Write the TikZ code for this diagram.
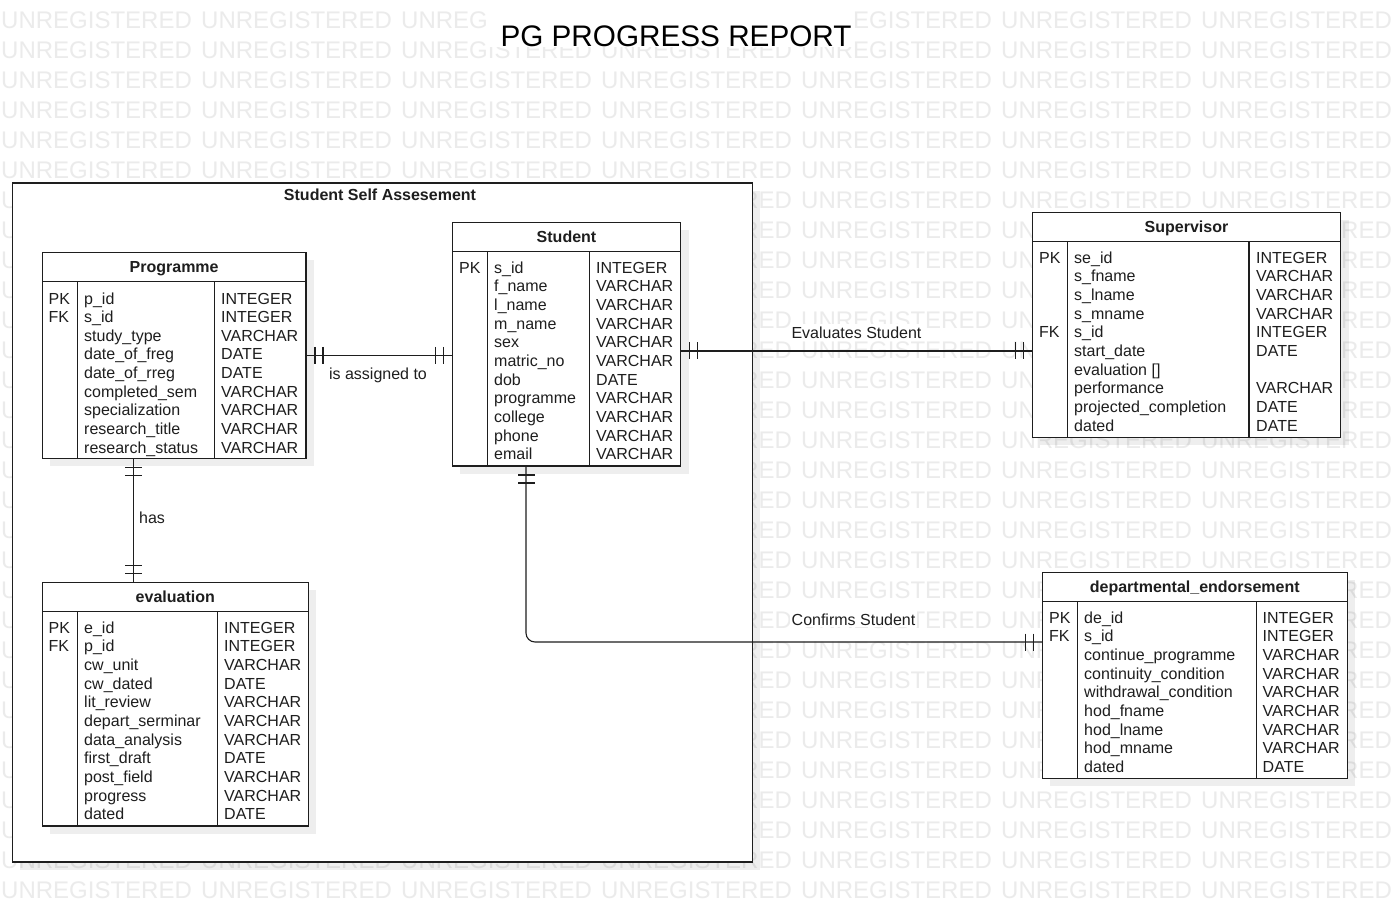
\documentclass[tikz,border=0pt]{standalone}
\usepackage{fontspec}
\setmainfont{Liberation Sans}
\usetikzlibrary{decorations.markings}

\definecolor{wmgray}{RGB}{235,235,235}
\definecolor{ink}{RGB}{30,30,30}

\tikzset{
  wm/.style={font=\fontsize{24}{28}\selectfont, text=wmgray, inner sep=0pt},
  cell/.style={font=\fontsize{16}{19}\selectfont, text=ink, inner sep=0pt},
  headtxt/.style={font=\fontsize{16}{19}\selectfont\bfseries, text=ink, inner sep=0pt},
  entity/.style={draw=ink, line width=1.1pt, fill=white, inner sep=0pt, outer sep=0pt},
  divline/.style={draw=ink, line width=1.1pt},
  shade/.style={fill=black, fill opacity=0.065},
  bar/.style={draw=ink, line width=1.1pt},
  relline/.style={draw=ink, line width=1.1pt, postaction=decorate,
    decoration={markings,
      mark=at position 9pt with {\draw[bar] (0,-8.5) -- (0,8.5);},
      mark=at position 17pt with {\draw[bar] (0,-8.5) -- (0,8.5);},
      mark=at position -9pt with {\draw[bar] (0,-8.5) -- (0,8.5);},
      mark=at position -17pt with {\draw[bar] (0,-8.5) -- (0,8.5);}}},
  rellabel/.style={font=\fontsize{16}{19}\selectfont, text=ink, fill=white, inner sep=2pt}
}

% entity box: name, x0, y0, x1, y1, first divider, second divider, title
\newcommand\erentity[8]{%
  \fill[shade] (#2+8,#3+8) rectangle (#4+8,#5+8);
  \node[entity, anchor=north west, minimum width={(#4-#2)*1pt}, minimum height={(#5-#3)*1pt}] (#1) at (#2,#3) {};
  \draw[divline] (#2,#3+28.8) -- (#4,#3+28.8);
  \draw[divline] (#6,#3+28.8) -- (#6,#5);
  \draw[divline] (#7,#3+28.8) -- (#7,#5);
  \node[headtxt, anchor=base] (#1-title) at ({(#2+#4)/2},#3+19.8) {#8};
}

% attribute rows: name, key x, field x, type x, first baseline, rows
\newcommand\errows[6]{%
  \foreach \k/\n/\t [count=\i from 0] in {#6} {
    \node[cell, anchor=base west] (#1-k\i) at (#2,{#5+18.65*\i}) {\k};
    \node[cell, anchor=base west] (#1-n\i) at (#3,{#5+18.65*\i}) {\n};
    \node[cell, anchor=base west] (#1-t\i) at (#4,{#5+18.65*\i}) {\t};
  }
}

\begin{document}
\begin{tikzpicture}[x=1pt, y=-1pt]
  \useasboundingbox (0,0) rectangle (1397,912);
  \fill[white] (0,0) rectangle (1397,912);

  % background lettering
  \foreach \r in {0,...,29} {
    \foreach \c in {0,...,6} {
      \node[wm, anchor=base west] (wm-\r-\c) at ({200*\c+1},{28.7+30*\r}) {UNREGISTERED};
    }
  }

  % title
  \fill[white] (488,8) rectangle (852,47);
  \node[font=\fontsize{29.7}{34}\selectfont, text=black, inner sep=0pt, anchor=base] (title) at (676,46.6) {PG PROGRESS REPORT};

  % group frame
  \fill[shade] (20.3,191) rectangle (760.3,870);
  \node[entity, anchor=north west, minimum width=740pt, minimum height=679pt] (frame) at (12.3,183) {};
  \node[headtxt, anchor=base] (frame-title) at (380,200.7) {Student Self Assesement};

  % entities
  \erentity{prog}{42.3}{252.3}{306}{458.3}{77.7}{214.5}{Programme}
  \errows{prog}{48.5}{84}{221}{304}{
    PK/p\_id/INTEGER, FK/s\_id/INTEGER, /study\_type/VARCHAR, /date\_of\_freg/DATE,
    /date\_of\_rreg/DATE, /completed\_sem/VARCHAR, /specialization/VARCHAR,
    /research\_title/VARCHAR, /research\_status/VARCHAR}

  \erentity{stud}{452.3}{222.3}{680.7}{466}{487.7}{589.5}{Student}
  \errows{stud}{459}{494}{596}{273.3}{
    PK/s\_id/INTEGER, /f\_name/VARCHAR, /l\_name/VARCHAR, /m\_name/VARCHAR,
    /sex/VARCHAR, /matric\_no/VARCHAR, /dob/DATE, /programme/VARCHAR,
    /college/VARCHAR, /phone/VARCHAR, /email/VARCHAR}

  \erentity{sup}{1032.3}{212.3}{1340.7}{437.3}{1067.7}{1249}{Supervisor}
  \errows{sup}{1039}{1074}{1256}{263.3}{
    PK/se\_id/INTEGER, /s\_fname/VARCHAR, /s\_lname/VARCHAR, /s\_mname/VARCHAR,
    FK/s\_id/INTEGER, /start\_date/DATE, /{evaluation []}/{}, /performance/VARCHAR,
    /projected\_completion/DATE, /dated/DATE}

  \erentity{eval}{42.3}{582.3}{308.3}{826}{77.7}{217.3}{evaluation}
  \errows{eval}{48.5}{84}{224}{633.3}{
    PK/e\_id/INTEGER, FK/p\_id/INTEGER, /cw\_unit/VARCHAR, /cw\_dated/DATE,
    /lit\_review/VARCHAR, /depart\_serminar/VARCHAR, /data\_analysis/VARCHAR,
    /first\_draft/DATE, /post\_field/VARCHAR, /progress/VARCHAR, /dated/DATE}

  \erentity{dept}{1042.3}{572.3}{1347.3}{778.3}{1077.7}{1256.7}{departmental\_endorsement}
  \errows{dept}{1049}{1084}{1262.5}{623.3}{
    PK/de\_id/INTEGER, FK/s\_id/INTEGER, /continue\_programme/VARCHAR,
    /continuity\_condition/VARCHAR, /withdrawal\_condition/VARCHAR,
    /hod\_fname/VARCHAR, /hod\_lname/VARCHAR, /hod\_mname/VARCHAR, /dated/DATE}

  % relationships
  \draw[relline] (prog.east) -- (prog.east -| stud.west);
  \draw[relline] ([xshift=-41pt]prog.south) -- ([xshift=-41pt]prog.south |- eval.north);
  \draw[relline] ([yshift=-6.8pt]stud.east) -- ([yshift=-6.8pt]stud.east -| sup.west);
  \draw[relline, rounded corners=9pt] ([xshift=-40.5pt]stud.south) |- ([yshift=33.3pt]dept.west);

  % relationship labels
  \node[rellabel, anchor=base] (lbl-assign) at (378,379.5) {is assigned to};
  \node[rellabel, anchor=base west] (lbl-has) at (137,523.3) {has};
  \node[rellabel, anchor=base] (lbl-evaluates) at (856.5,338) {Evaluates Student};
  \node[rellabel, anchor=base] (lbl-confirms) at (853.5,625) {Confirms Student};
\end{tikzpicture}
\end{document}
